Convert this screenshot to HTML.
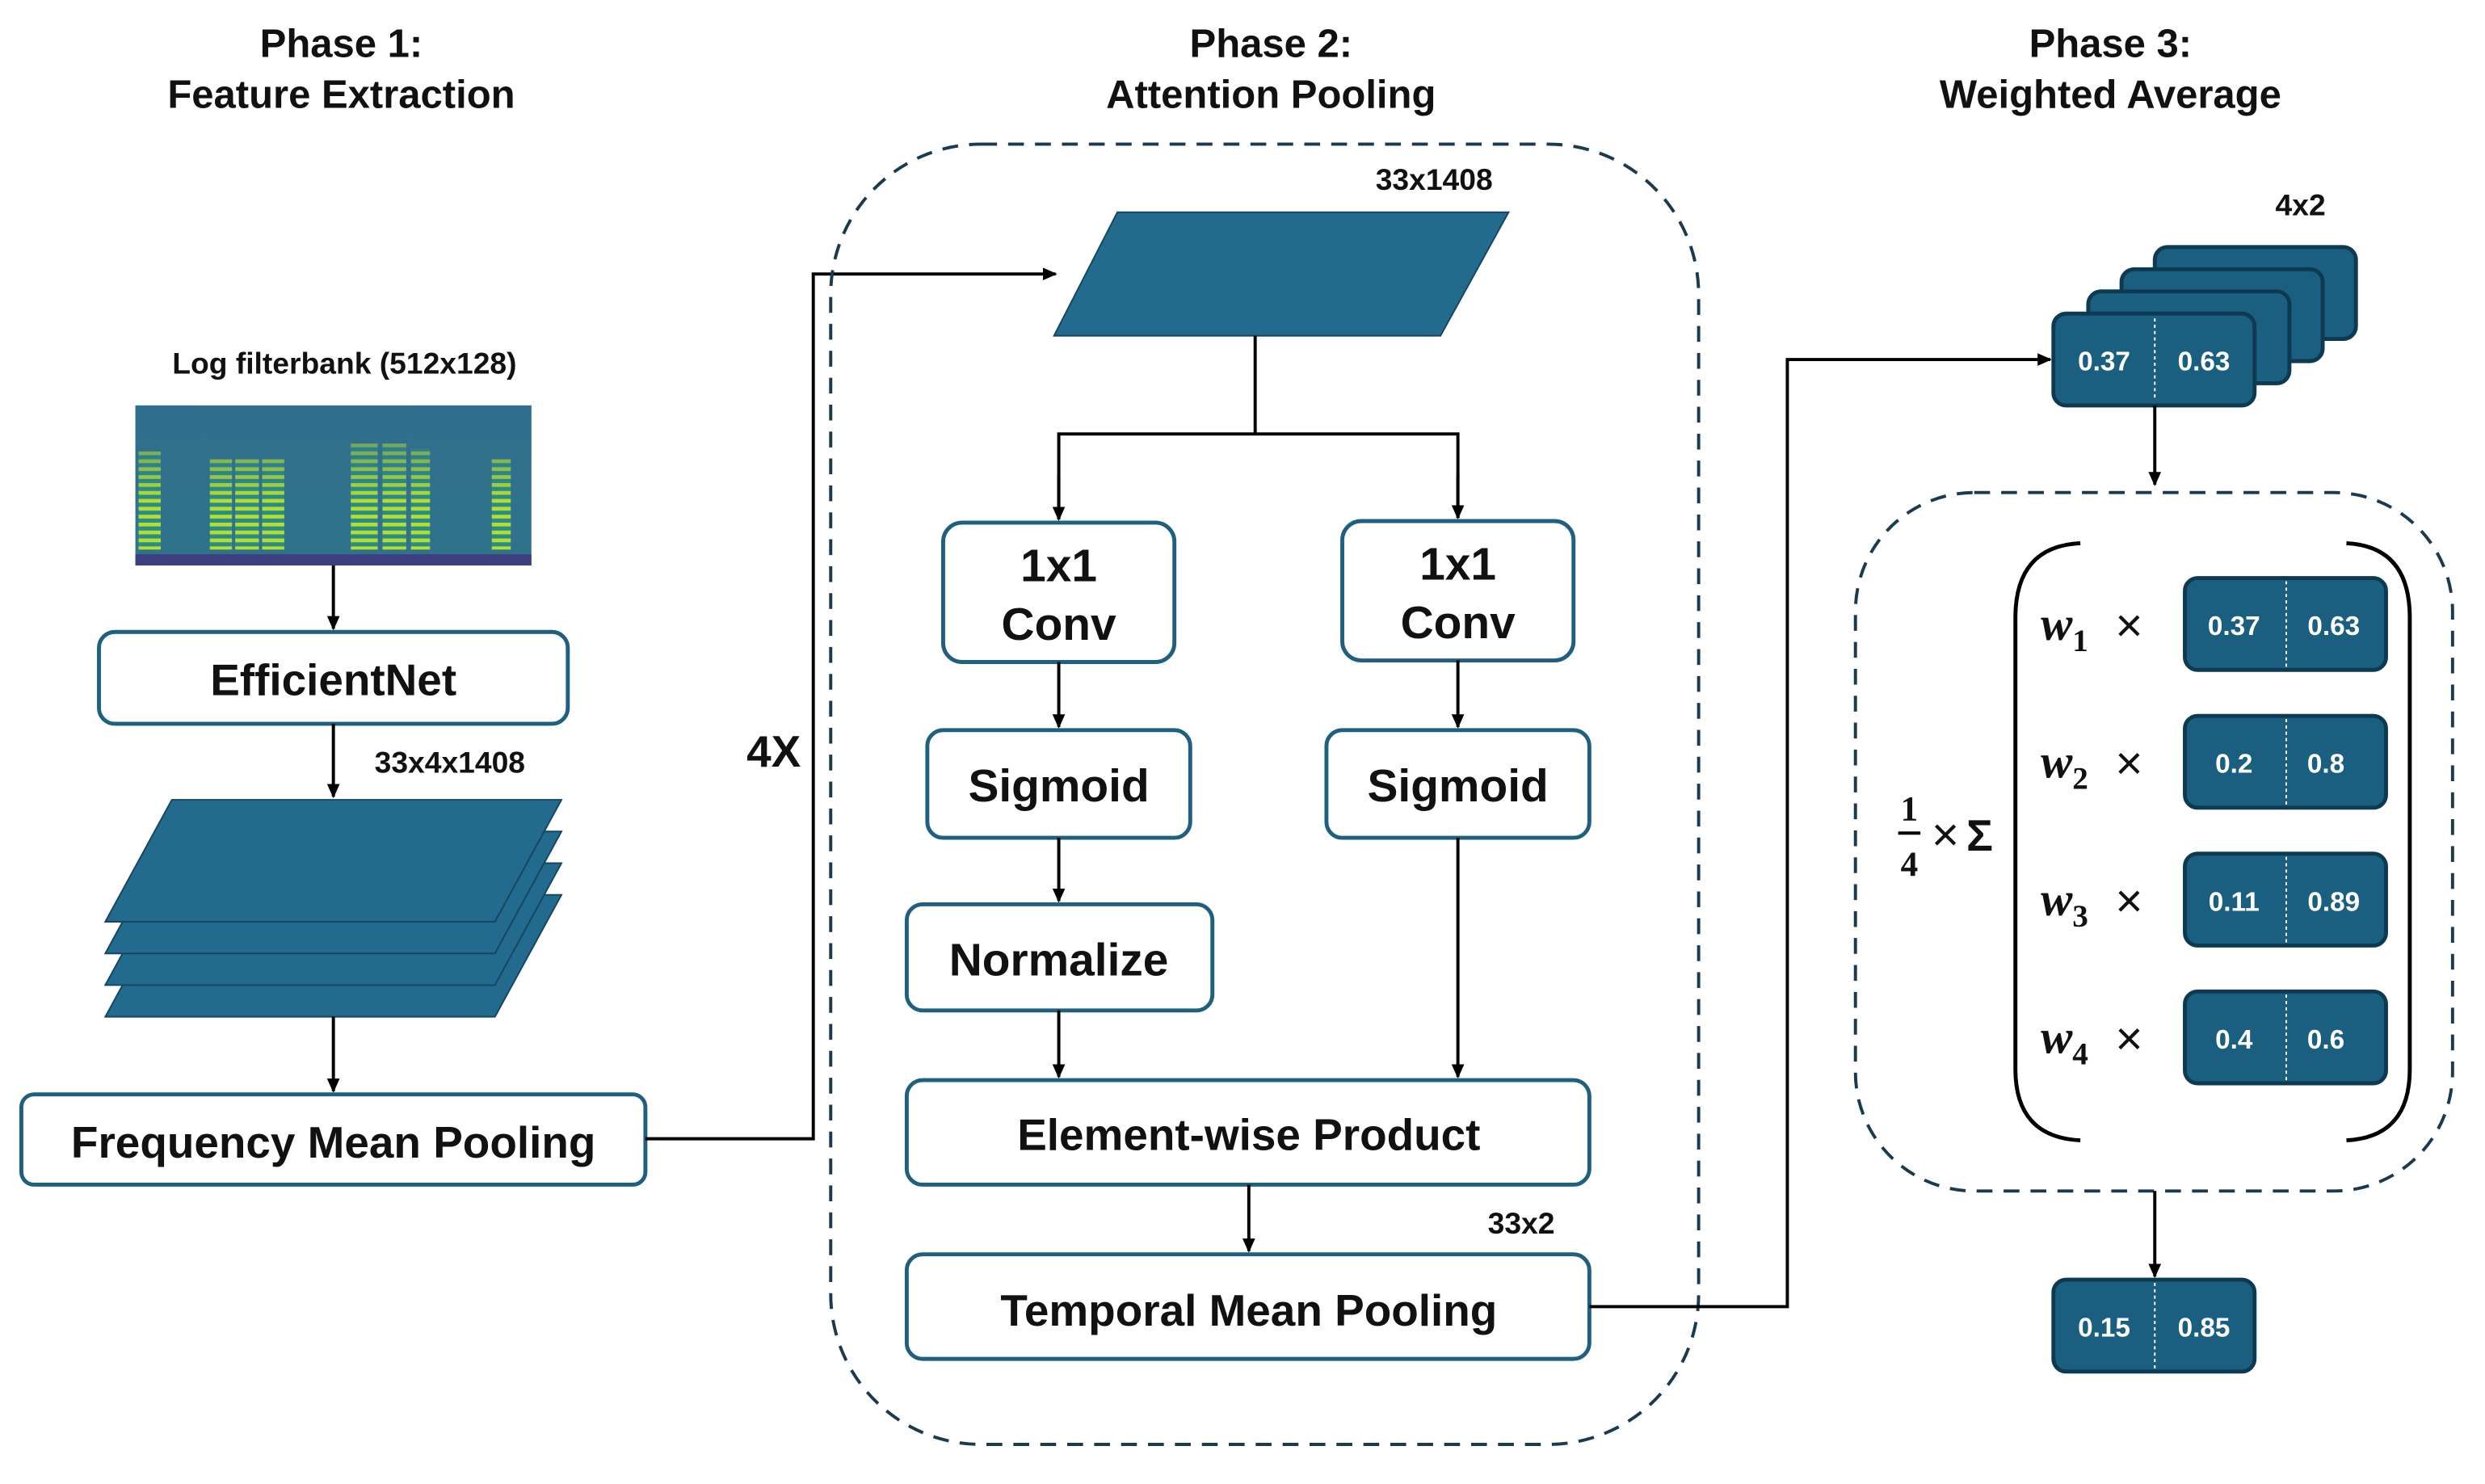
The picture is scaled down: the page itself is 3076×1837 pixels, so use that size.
<!DOCTYPE html>
<html><head><meta charset="utf-8"><style>
html,body{margin:0;padding:0;background:#fff;}
svg{display:block;}
text{font-family:"Liberation Sans","DejaVu Sans",sans-serif;font-weight:bold;fill:#111;}
text.serif{font-family:"Liberation Serif","DejaVu Serif",serif;}
text.thin{font-weight:normal;}
text.w{fill:#fff;}
</style></head><body>
<svg width="3076" height="1837" viewBox="0 0 1568 937" xmlns="http://www.w3.org/2000/svg">
<defs>
<marker id="ar" markerWidth="10" markerHeight="10" refX="8" refY="5" orient="auto" markerUnits="userSpaceOnUse">
<path d="M0,1 L9,5 L0,9 z" fill="#000"/></marker>
<pattern id="harm" width="400" height="5" patternUnits="userSpaceOnUse">
<rect width="400" height="5" fill="#2a8c8a"/><rect y="0" width="400" height="2.4" fill="#b5dd2e"/></pattern>
<linearGradient id="fade" x1="0" y1="0" x2="0" y2="1">
<stop offset="0" stop-color="#2f6e8e" stop-opacity="0.85"/>
<stop offset="0.35" stop-color="#2f6e8e" stop-opacity="0.35"/>
<stop offset="0.6" stop-color="#2f6e8e" stop-opacity="0"/>
<stop offset="1" stop-color="#2f6e8e" stop-opacity="0"/></linearGradient>
</defs>

<g font-size="25" text-anchor="middle">
<text x="215" y="36">Phase 1:</text><text x="215" y="68">Feature Extraction</text>
<text x="802" y="36">Phase 2:</text><text x="802" y="68">Attention Pooling</text>
<text x="1332" y="36">Phase 3:</text><text x="1332" y="68">Weighted Average</text>
</g>

<text x="217" y="236" font-size="19" text-anchor="middle">Log filterbank (512x128)</text>
<rect x="85" y="256" width="250" height="101" fill="#33658c"/>
<rect x="85" y="256" width="250" height="101" fill="#2b8a8c" opacity="0.35"/>
<g>
<rect x="87" y="285" width="14" height="62" fill="url(#harm)"/>
<rect x="132" y="290" width="14" height="57" fill="url(#harm)"/>
<rect x="148" y="290" width="15" height="57" fill="url(#harm)"/>
<rect x="165" y="290" width="14" height="57" fill="url(#harm)"/>
<rect x="221" y="280" width="17" height="67" fill="url(#harm)"/>
<rect x="241" y="280" width="15" height="67" fill="url(#harm)"/>
<rect x="259" y="283" width="12" height="64" fill="url(#harm)"/>
<rect x="310" y="290" width="12" height="57" fill="url(#harm)"/>
<rect x="85" y="256" width="250" height="101" fill="url(#fade)"/>
<rect x="85" y="350" width="250" height="7" fill="#3b3f7e"/>
</g>
<line x1="210" y1="357" x2="210" y2="397" stroke="#000" stroke-width="2" marker-end="url(#ar)"/>
<rect x="62" y="399" width="296" height="58" rx="10" fill="#fff" stroke="#1f5f7f" stroke-width="2.5"/>
<text x="210" y="439" font-size="28" text-anchor="middle">EfficientNet</text>
<line x1="210" y1="457" x2="210" y2="503" stroke="#000" stroke-width="2" marker-end="url(#ar)"/>
<text x="236" y="488" font-size="19">33x4x1408</text>
<g fill="#236b8e" stroke="#16465e" stroke-width="1">
<polygon points="108,565 354,565 312,642 66,642"/>
<polygon points="108,545 354,545 312,622 66,622"/>
<polygon points="108,525 354,525 312,602 66,602"/>
<polygon points="108,505 354,505 312,582 66,582"/>
</g>
<line x1="210" y1="642" x2="210" y2="689" stroke="#000" stroke-width="2" marker-end="url(#ar)"/>
<rect x="13" y="691" width="394" height="57" rx="8" fill="#fff" stroke="#1f5f7f" stroke-width="2.5"/>
<text x="210" y="731" font-size="28" text-anchor="middle">Frequency Mean Pooling</text>
<polyline points="407,719 513,719 513,173 666,173" fill="none" stroke="#000" stroke-width="2" marker-end="url(#ar)"/>
<text x="488" y="484" font-size="28" text-anchor="middle">4X</text>

<rect x="524" y="91" width="548" height="821" rx="95" fill="none" stroke="#1a3a50" stroke-width="2" stroke-dasharray="10,7"/>
<polygon points="705,134 952,134 909,212 665,212" fill="#236b8e" stroke="#16465e" stroke-width="1"/>
<text x="905" y="120" font-size="19" text-anchor="middle">33x1408</text>
<polyline points="792,212 792,274" fill="none" stroke="#000" stroke-width="2"/>
<polyline points="668,328 668,274 920,274 920,327" fill="none" stroke="#000" stroke-width="2"/>
<line x1="668" y1="300" x2="668" y2="328" stroke="#000" stroke-width="2" marker-end="url(#ar)"/>
<line x1="920" y1="300" x2="920" y2="327" stroke="#000" stroke-width="2" marker-end="url(#ar)"/>
<g fill="#fff" stroke="#1f5f7f" stroke-width="2.5">
<rect x="595" y="330" width="146" height="88" rx="12"/>
<rect x="847" y="329" width="146" height="88" rx="12"/>
<rect x="585" y="461" width="166" height="68" rx="10"/>
<rect x="837" y="461" width="166" height="68" rx="10"/>
<rect x="572" y="571" width="193" height="67" rx="10"/>
<rect x="572" y="682" width="431" height="66" rx="10"/>
<rect x="572" y="792" width="431" height="66" rx="10"/>
</g>
<g font-size="29" text-anchor="middle">
<text x="668" y="367">1x1</text><text x="668" y="404">Conv</text>
<text x="920" y="366">1x1</text><text x="920" y="403">Conv</text>
<text x="668" y="506">Sigmoid</text><text x="920" y="506">Sigmoid</text>
<text x="668" y="616">Normalize</text>
</g>
<text x="788" y="726" font-size="28" text-anchor="middle">Element-wise Product</text>
<text x="788" y="837" font-size="28" text-anchor="middle">Temporal Mean Pooling</text>
<g stroke="#000" stroke-width="2" marker-end="url(#ar)">
<line x1="668" y1="418" x2="668" y2="459"/>
<line x1="920" y1="417" x2="920" y2="459"/>
<line x1="668" y1="529" x2="668" y2="569"/>
<line x1="668" y1="638" x2="668" y2="680"/>
<line x1="920" y1="529" x2="920" y2="680"/>
<line x1="788" y1="748" x2="788" y2="790"/>
</g>
<text x="960" y="779" font-size="19" text-anchor="middle">33x2</text>
<polyline points="1003,825 1128,825 1128,227 1294,227" fill="none" stroke="#000" stroke-width="2" marker-end="url(#ar)"/>

<text x="1452" y="136" font-size="19" text-anchor="middle">4x2</text>
<g fill="#1a5f80" stroke="#0d3a50" stroke-width="2.5">
<rect x="1360" y="156" width="127" height="58" rx="8"/>
<rect x="1339" y="170" width="127" height="58" rx="8"/>
<rect x="1318" y="184" width="127" height="58" rx="8"/>
<rect x="1296" y="198" width="127" height="58" rx="8"/>
</g>
<line x1="1360" y1="201" x2="1360" y2="253" stroke="#fff" stroke-width="1" stroke-dasharray="2,2"/>
<g font-size="17" text-anchor="middle">
<text class="w" x="1328" y="234">0.37</text><text class="w" x="1391" y="234">0.63</text>
</g>
<line x1="1360" y1="256" x2="1360" y2="306" stroke="#000" stroke-width="2" marker-end="url(#ar)"/>
<rect x="1171" y="311" width="377" height="441" rx="75" fill="none" stroke="#1a3a50" stroke-width="2" stroke-dasharray="10,7"/>
<path d="M1313,343 Q1272,345 1272,390 L1272,675 Q1272,718 1313,720" fill="none" stroke="#000" stroke-width="2.5"/>
<path d="M1481,343 Q1521,345 1521,390 L1521,675 Q1521,718 1481,720" fill="none" stroke="#000" stroke-width="2.5"/>
<g fill="#1a5f80" stroke="#0d3a50" stroke-width="2.5">
<rect x="1379" y="365" width="127" height="58" rx="8"/>
<rect x="1379" y="452" width="127" height="58" rx="8"/>
<rect x="1379" y="539" width="127" height="58" rx="8"/>
<rect x="1379" y="626" width="127" height="58" rx="8"/>
<rect x="1296" y="808" width="127" height="58" rx="8"/>
</g>
<g stroke="#fff" stroke-width="1" stroke-dasharray="2,2">
<line x1="1443" y1="367" x2="1443" y2="421"/><line x1="1443" y1="454" x2="1443" y2="508"/>
<line x1="1443" y1="541" x2="1443" y2="595"/><line x1="1443" y1="628" x2="1443" y2="682"/>
<line x1="1360" y1="810" x2="1360" y2="864"/>
</g>
<g font-size="17" text-anchor="middle">
<text class="w" x="1410" y="401">0.37</text><text class="w" x="1473" y="401">0.63</text>
<text class="w" x="1410" y="488">0.2</text><text class="w" x="1468" y="488">0.8</text>
<text class="w" x="1410" y="575">0.11</text><text class="w" x="1473" y="575">0.89</text>
<text class="w" x="1410" y="662">0.4</text><text class="w" x="1468" y="662">0.6</text>
<text class="w" x="1328" y="844">0.15</text><text class="w" x="1391" y="844">0.85</text>
</g>
<text class="serif" x="1288" y="404" font-size="30" font-style="italic">w<tspan font-size="20" font-style="normal" dy="7">1</tspan></text>
<text class="serif" x="1288" y="491" font-size="30" font-style="italic">w<tspan font-size="20" font-style="normal" dy="7">2</tspan></text>
<text class="serif" x="1288" y="578" font-size="30" font-style="italic">w<tspan font-size="20" font-style="normal" dy="7">3</tspan></text>
<text class="serif" x="1288" y="665" font-size="30" font-style="italic">w<tspan font-size="20" font-style="normal" dy="7">4</tspan></text>
<text class="serif" x="1205" y="518" font-size="22" text-anchor="middle">1</text>
<text class="serif" x="1205" y="553" font-size="22" text-anchor="middle">4</text>
<line x1="1198" y1="526" x2="1212" y2="526" stroke="#000" stroke-width="2"/>
<g font-size="30">
<text class="thin" x="1335" y="405">×</text><text class="thin" x="1335" y="492">×</text><text class="thin" x="1335" y="579">×</text><text class="thin" x="1335" y="666">×</text>
<text class="thin" x="1219" y="537">×</text>
</g>
<text x="1241" y="537" font-size="28">Σ</text>
<line x1="1360" y1="752" x2="1360" y2="806" stroke="#000" stroke-width="2" marker-end="url(#ar)"/>
</svg>
</body></html>
